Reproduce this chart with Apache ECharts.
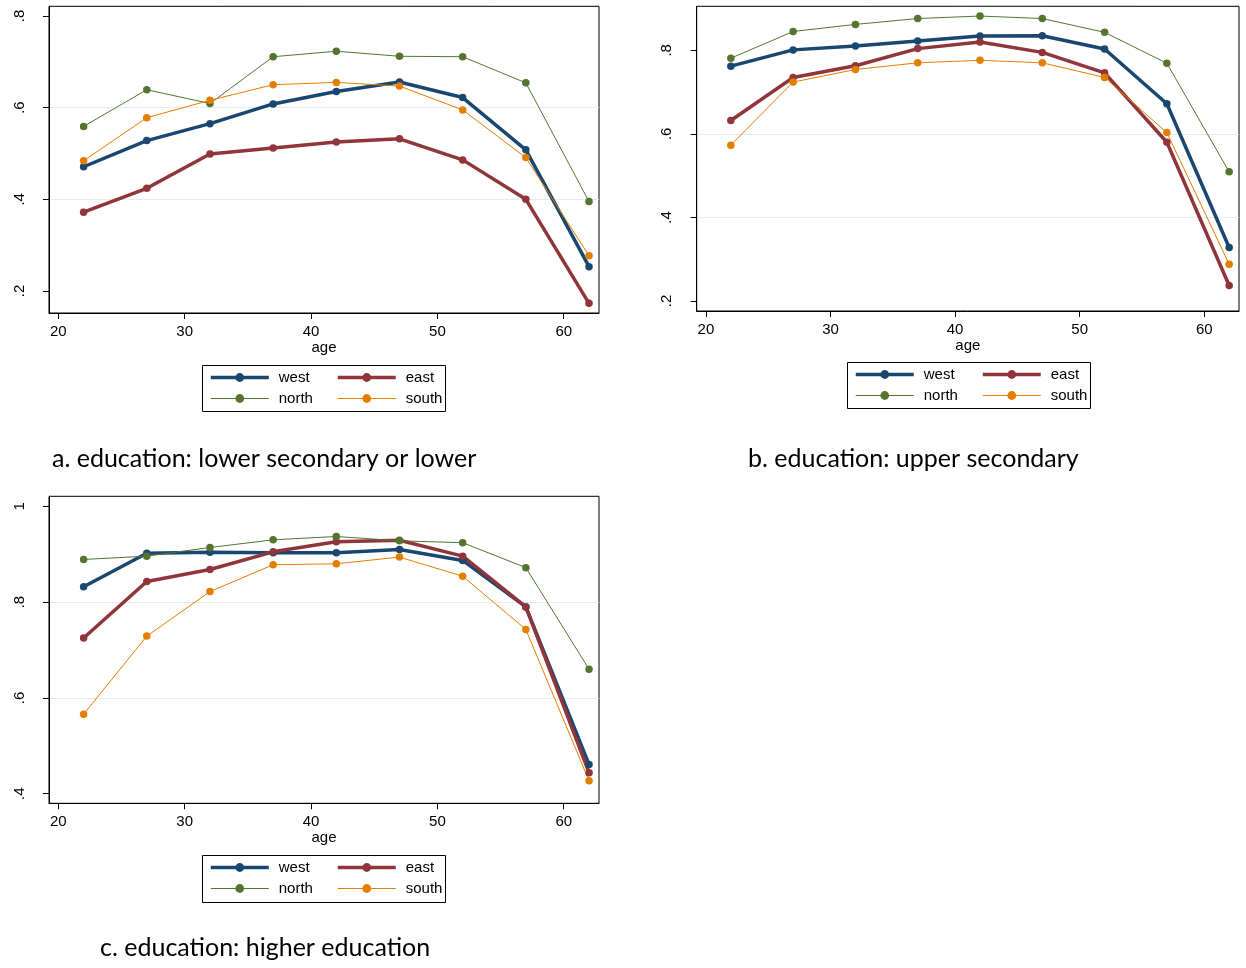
<!DOCTYPE html>
<html>
<head>
<meta charset="utf-8">
<script src="https://cdn.jsdelivr.net/npm/echarts@6/dist/echarts.min.js"></script>
<style>
html,body{margin:0;padding:0;background:#fff;}
#chart{width:1246px;height:968px;}
</style>
</head>
<body>
<div id="chart"></div>
<script>
// ---- data ----
const ages = [22, 27, 32, 37, 42, 47, 52, 57, 62];
const xTicks = [20, 30, 40, 50, 60];

const aWest  = [0.471, 0.528, 0.565, 0.608, 0.635, 0.656, 0.622, 0.508, 0.253];
const aEast  = [0.372, 0.424, 0.499, 0.512, 0.525, 0.532, 0.486, 0.400, 0.173];
const aNorth = [0.559, 0.639, 0.609, 0.711, 0.723, 0.712, 0.711, 0.654, 0.395];
const aSouth = [0.484, 0.578, 0.616, 0.650, 0.655, 0.647, 0.595, 0.491, 0.277];
const aTicks = [0.2, 0.4, 0.6, 0.8];

const bWest  = [0.762, 0.801, 0.810, 0.822, 0.834, 0.835, 0.803, 0.672, 0.328];
const bEast  = [0.632, 0.735, 0.763, 0.804, 0.820, 0.795, 0.746, 0.580, 0.237];
const bNorth = [0.781, 0.845, 0.862, 0.876, 0.882, 0.876, 0.843, 0.769, 0.509];
const bSouth = [0.573, 0.724, 0.754, 0.770, 0.776, 0.770, 0.735, 0.603, 0.288];
const bTicks = [0.2, 0.4, 0.6, 0.8];

const cWest  = [0.832, 0.902, 0.904, 0.903, 0.903, 0.910, 0.887, 0.790, 0.461];
const cEast  = [0.725, 0.843, 0.868, 0.905, 0.926, 0.929, 0.896, 0.790, 0.444];
const cNorth = [0.889, 0.896, 0.914, 0.930, 0.937, 0.928, 0.924, 0.872, 0.660];
const cSouth = [0.566, 0.729, 0.822, 0.878, 0.880, 0.894, 0.854, 0.743, 0.427];
const cTicks = [0.4, 0.6, 0.8, 1.0];

const seriesNames = ['west', 'east', 'north', 'south'];
const legendColumns = [['west', 'north'], ['east', 'south']];
const captions = ['a. education: lower secondary or lower', 'b. education: upper secondary', 'c. education: higher education'];

// ---- styles ----
const colors = {west: '#1a476f', east: '#90353b', north: '#55752f', south: '#e37e00'};
const widths = {west: 3.5, east: 3.5, north: 1, south: 1};
const FONT = 'Liberation Sans, Arial, sans-serif';

const panels = [
  {grid: {left: 49, top: 6.3, width: 550, height: 306.7}, y: [0.152, 0.821], ticks: aTicks, data: [aWest, aEast, aNorth, aSouth],
   legendBox: {x: 202, y: 365, w: 243, h: 46}, caption: {left: 52, top: 446}},
  {grid: {left: 696.7, top: 6.3, width: 542.3, height: 304.7}, y: [0.176, 0.9053], ticks: bTicks, data: [bWest, bEast, bNorth, bSouth],
   legendBox: {x: 847, y: 362, w: 243, h: 46}, caption: {left: 748, top: 446}},
  {grid: {left: 49, top: 496.3, width: 550, height: 307}, y: [0.380, 1.0209], ticks: cTicks, data: [cWest, cEast, cNorth, cSouth],
   legendBox: {x: 202, y: 855, w: 243, h: 47}, caption: {left: 100, top: 935}}
];

function fmtY(v) {
  if (Math.abs(v - 1) < 1e-9) return '1';
  return v.toFixed(1).replace(/^0/, '');
}

const option = {
  animation: false,
  backgroundColor: '#fff',
  title: [], grid: [], xAxis: [], yAxis: [], legend: [], series: [], graphic: []
};

panels.forEach((p, k) => {
  option.grid.push(Object.assign({show: true, borderColor: '#000', borderWidth: 1, backgroundColor: '#fff', containLabel: false}, p.grid));
  option.xAxis.push({
    type: 'value', gridIndex: k, min: 19.26, max: 62.79,
    minInterval: 10, maxInterval: 10,
    name: 'age', nameLocation: 'middle', nameGap: 27,
    nameTextStyle: {fontSize: 15, fontFamily: FONT, color: '#000'},
    axisLine: {show: true, lineStyle: {color: '#000', width: 1}},
    axisTick: {show: true, length: 6, lineStyle: {color: '#000'}, customValues: xTicks},
    axisLabel: {fontSize: 15, fontFamily: FONT, color: '#000', margin: 11, customValues: xTicks},
    splitLine: {show: false}
  });
  option.yAxis.push({
    type: 'value', gridIndex: k, min: p.y[0], max: p.y[1],
    minInterval: 0.2, maxInterval: 0.2,
    axisLine: {show: true, lineStyle: {color: '#000', width: 1}},
    axisTick: {show: true, length: 6, lineStyle: {color: '#000'}, customValues: p.ticks},
    axisLabel: {fontSize: 15, fontFamily: FONT, color: '#000', margin: 22, rotate: 90, customValues: p.ticks, formatter: fmtY},
    splitLine: {show: true, showMinLine: false, showMaxLine: false, lineStyle: {color: '#e3edf0', width: 1}}
  });
  seriesNames.forEach((n, j) => {
    option.series.push({
      name: n, type: 'line', xAxisIndex: k, yAxisIndex: k,
      data: ages.map((a, i) => [a, p.data[j][i]]),
      symbol: 'circle', symbolSize: 7.5, showSymbol: true,
      lineStyle: {color: colors[n], width: widths[n]},
      itemStyle: {color: colors[n]},
      emphasis: {disabled: true}
    });
  });
  const b = p.legendBox;
  legendColumns.forEach((col, c) => {
    option.legend.push({
      left: b.x + 7 + c * 127, top: b.y + 5, orient: 'vertical',
      itemWidth: 58, itemHeight: 11, itemGap: 6, padding: 0,
      selectedMode: false,
      textStyle: {fontSize: 15, fontFamily: FONT, color: '#000', padding: [0, 0, 0, 5]},
      data: col.map(n => ({name: n, lineStyle: {width: widths[n], color: colors[n]}}))
    });
  });
  option.graphic.push({
    type: 'rect', silent: true, z: 10,
    shape: {x: b.x + 0.5, y: b.y + 0.5, width: b.w, height: b.h},
    style: {fill: null, stroke: '#000', lineWidth: 1}
  });
  option.title.push({
    text: captions[k], left: p.caption.left, top: p.caption.top, padding: 0,
    textStyle: {fontSize: 25, fontWeight: 'normal', fontFamily: 'Lato, Open Sans, sans-serif', color: '#000'}
  });
});

const chart = echarts.init(document.getElementById('chart'), null, {renderer: 'canvas'});
chart.setOption(option);
</script>
</body>
</html>
